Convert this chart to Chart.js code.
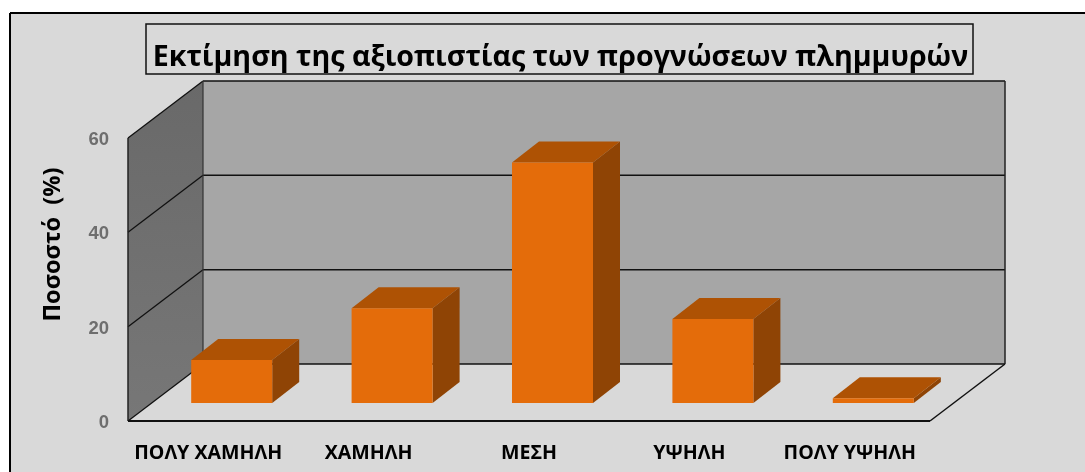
<!DOCTYPE html>
<html><head><meta charset="utf-8">
<style>html,body{margin:0;padding:0;background:#fff}canvas{display:block}</style>
<script src="https://cdn.jsdelivr.net/npm/chart.js@4"></script>
</head><body><canvas id="c" width="1085" height="472"></canvas>
<script>
const categories = ["ΠΟΛΥ ΧΑΜΗΛΗ","ΧΑΜΗΛΗ","ΜΕΣΗ","ΥΨΗΛΗ","ΠΟΛΥ ΥΨΗΛΗ"];
const values = [9.1,20.1,51,17.8,1];
const yTicks = [0,20,40,60];
const titleText = "Εκτίμηση της αξιοπιστίας των προγνώσεων πλημμυρών";
const yTitle = "Ποσοστό  (%)";
const FONT = '"Open Sans","Noto Sans",sans-serif';
const wall = {dx:75, dy:-57}, barBase = {dx:23.5, dy:-18}, barDepth = {dx:27, dy:-21};

function poly(ctx, pts, fill, stroke, lw){
  ctx.beginPath(); pts.forEach((p,i)=> i?ctx.lineTo(p[0],p[1]):ctx.moveTo(p[0],p[1])); ctx.closePath();
  if(fill){ctx.fillStyle=fill;ctx.fill();}
  if(stroke){ctx.strokeStyle=stroke;ctx.lineWidth=lw||1;ctx.stroke();}
}
function line(ctx,a,b,c,lw){ctx.beginPath();ctx.moveTo(a[0],a[1]);ctx.lineTo(b[0],b[1]);ctx.strokeStyle=c;ctx.lineWidth=lw;ctx.stroke();}

const threeD = {
  id:'threeD',
  afterLayout(chart){
    const t=chart.titleBlock; t.left=36; t.right=1085;
    const s=chart.scales.y;
    if(!s._wrapped){ s._wrapped=true; const o=s.drawTitle;
      s.drawTitle=function(){const c=this.ctx;c.save();c.translate(0,-35);o.call(this);c.restore();}; }
  },
  beforeDraw(chart){
    const c=chart.ctx;
    c.save();
    c.fillStyle='#fff';c.fillRect(0,0,chart.width,chart.height);
    c.fillStyle='#d9d9d9';c.fillRect(10,13,chart.width-10,chart.height-13);
    line(c,[10,13],[chart.width,13],'#000',2);
    line(c,[10,13],[10,chart.height],'#000',2);
    c.fillStyle='#d9d9d9';c.fillRect(146,24,827,50);
    c.strokeStyle='#111';c.lineWidth=1.5;c.strokeRect(146,24,827,50);
    c.restore();
  },
  beforeDatasetsDraw(chart){
    const c=chart.ctx,{x,y}=chart.scales;
    const L=x.left,R=x.right,T=y.getPixelForValue(60),B=y.getPixelForValue(0);
    const d=wall;
    c.save();
    const gl=c.createLinearGradient(0,T+d.dy,0,B);gl.addColorStop(0,'#696969');gl.addColorStop(1,'#777');
    poly(c,[[L,T],[L+d.dx,T+d.dy],[L+d.dx,B+d.dy],[L,B]],gl);
    poly(c,[[L+d.dx,T+d.dy],[R+d.dx,T+d.dy],[R+d.dx,B+d.dy],[L+d.dx,B+d.dy]],'#a6a6a6');
    yTicks.forEach(v=>{const p=y.getPixelForValue(v);
      line(c,[L,p],[L+d.dx,p+d.dy],'#111',1.3);
      line(c,[L+d.dx,p+d.dy],[R+d.dx,p+d.dy],'#111',1.5);});
    line(c,[L+d.dx,T+d.dy],[L+d.dx,B+d.dy],'#333',1.2);
    line(c,[R+d.dx,T+d.dy],[R+d.dx,B+d.dy],'#222',1.5);
    line(c,[L,T],[L,B],'#222',1.5);
    line(c,[L,B],[R,B],'#111',2);
    line(c,[R,B],[R+d.dx,B+d.dy],'#111',1.5);
    const o=barBase,e=barDepth;
    chart.getDatasetMeta(0).data.forEach(b=>{
      const w=b.width/2,l=b.x-w+o.dx,r=b.x+w+o.dx,t=b.y+o.dy,bb=b.base+o.dy;
      poly(c,[[r,t],[r+e.dx,t+e.dy],[r+e.dx,bb+e.dy],[r,bb]],'#8f4405');
      poly(c,[[l,t],[l+e.dx,t+e.dy],[r+e.dx,t+e.dy],[r,t]],'#ae5204');
    });
    c.translate(o.dx,o.dy);
  },
  afterDatasetsDraw(chart){ chart.ctx.restore(); }
};

new Chart(document.getElementById('c'),{
  type:'bar',
  data:{labels:categories,datasets:[{data:values,backgroundColor:'#e46c0a',borderWidth:0,barPercentage:0.505,categoryPercentage:1,clip:false}]},
  plugins:[threeD],
  options:{
    responsive:false,animation:false,
    layout:{padding:{left:0,right:155,top:0,bottom:0}},
    plugins:{
      legend:{display:false},tooltip:{enabled:false},
      title:{display:true,text:titleText,color:'#000',font:{family:FONT,size:28.6,weight:'bold',lineHeight:1.2},padding:{top:40.5,bottom:63.2}}
    },
    scales:{
      x:{grid:{display:false},border:{display:false},
        afterFit(s){s.height=51;},
        ticks:{color:'#000',maxRotation:0,autoSkip:false,padding:13,font:{family:FONT,size:19.6,weight:'bold'}}},
      y:{min:0,max:60,grid:{display:false},border:{display:false},
        afterFit(s){s.width=128;},
        afterBuildTicks(s){s.ticks=yTicks.map(v=>({value:v}));},
        ticks:{color:'#6e6e6e',padding:11,labelOffset:2,font:{family:'"Liberation Sans",Arial,sans-serif',size:18.5,weight:'bold'}},
        title:{display:true,text:yTitle,color:'#000',padding:{top:39,bottom:0},font:{family:FONT,size:23.5,weight:'bold'}}}
    }
  }
});
</script></body></html>
